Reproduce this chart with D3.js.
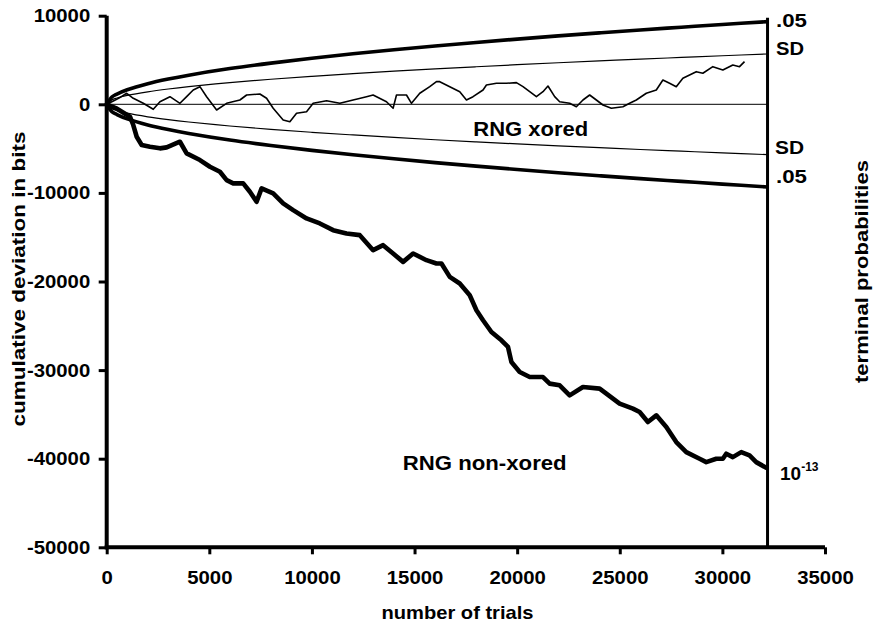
<!DOCTYPE html>
<html>
<head>
<meta charset="utf-8">
<script src="https://cdn.jsdelivr.net/npm/d3@7"></script>
<style>
  html, body { margin: 0; padding: 0; background: #fff; }
  svg { display: block; }
  text { font-family: "Liberation Sans", Arial, Helvetica, sans-serif; font-weight: bold; fill: #000; }
</style>
</head>
<body>
<svg id="chart" width="874" height="625"></svg>
<script>
// ---------- data ----------
const xTicks = [0, 5000, 10000, 15000, 20000, 25000, 30000, 35000];
const yTicks = [10000, 0, -10000, -20000, -30000, -40000, -50000];
const endTrial = 32200;

// envelope
const envX   = [0, 250, 500, 1000, 2000, 3000, 4000, 6000, 8000, 10000, 12000, 14000, 16000, 18000, 20000, 22000, 24000, 26000, 28000, 30000, 32200];
const envSD  = [0, 500, 710, 1000, 1410, 1730, 2000, 2450, 2830, 3160, 3460, 3740, 4000, 4240, 4470, 4690, 4900, 5100, 5290, 5480, 5680];
const env05  = [0, 820, 1160, 1650, 2330, 2850, 3290, 4030, 4650, 5200, 5700, 6150, 6580, 6980, 7360, 7720, 8060, 8390, 8700, 9010, 9330];

// RNG xored cumulative deviation
const xoredX = [0, 300, 600, 974, 1295, 1782, 2269, 2595, 3082, 3569, 3895, 4216, 4543, 4869, 5356, 5843, 6490, 6817, 7464, 7790, 8112, 8599, 8925, 9251, 9738, 10060, 10712, 11359, 12007, 12659, 12981, 13633, 13955, 14120, 14607, 14851, 15255, 15742, 16068, 16229, 16716, 17203, 17529, 17850, 18337, 18503, 18990, 19476, 19963, 20285, 20611, 20937, 21258, 21502, 21828, 22071, 22558, 22885, 23206, 23532, 23858, 24180, 24589, 25154, 25480, 25806, 26293, 26780, 27101, 27427, 27753, 28075, 28727, 29048, 29535, 30022, 30509, 30836, 31079];
const xoredY = [0, 350, 700, 1243, 678, 113, -565, 294, 859, 113, 859, 1616, 1989, 859, -644, 113, 486, 1051, 1164, 678, -452, -1774, -1966, -1017, -836, 113, 407, 113, 486, 859, 1051, 294, -452, 1051, 1051, 113, 1243, 1989, 2554, 2554, 1989, 1424, 486, 859, 1616, 2181, 2373, 2373, 2441, 1989, 1424, 859, 1424, 2068, 859, 294, 113, -271, 486, 1051, 486, -79, -452, -271, 113, 486, 1243, 1616, 2746, 2373, 1989, 2938, 3684, 3503, 4249, 3876, 4441, 4249, 4814];

// RNG non-xored cumulative deviation
const nonX = [0, 500, 1134, 1295, 1461, 1704, 2108, 2595, 2921, 3569, 3895, 4543, 5030, 5517, 5843, 6164, 6651, 6977, 7304, 7547, 8112, 8599, 9086, 9738, 10386, 11033, 11686, 12333, 12981, 13468, 13955, 14442, 14929, 15581, 16068, 16311, 16716, 17203, 17690, 18016, 18337, 18746, 19233, 19554, 19720, 20124, 20611, 21258, 21584, 22071, 22558, 23206, 24019, 24345, 24993, 25640, 25967, 26371, 26780, 27267, 27753, 28240, 28888, 29214, 29701, 30022, 30188, 30509, 30918, 31322, 31648, 32135];
const nonY = [0, -500, -1401, -2339, -3661, -4599, -4791, -4972, -4859, -4226, -5537, -6294, -7051, -7616, -8554, -8927, -8927, -9876, -11006, -9492, -10057, -11187, -11944, -12882, -13447, -14204, -14577, -14769, -16464, -15899, -16837, -17786, -16837, -17594, -17967, -17967, -19481, -20227, -21549, -23244, -24374, -25696, -26634, -27391, -29086, -30216, -30781, -30781, -31527, -31719, -32849, -31911, -32092, -32657, -33787, -34352, -34736, -35866, -35109, -36431, -38126, -39256, -40002, -40386, -40002, -40002, -39437, -39821, -39256, -39629, -40386, -41019];

// ---------- drawing ----------
const svg = d3.select("#chart");
const x = d3.scaleLinear().domain([0, 35000]).range([106.7, 825]);
const y = d3.scaleLinear().domain([-50000, 10000]).range([547.3, 15.7]);

const stretch = 1.07;
function widen(sel, f) {
  sel.each(function () {
    const w = this.getComputedTextLength();
    d3.select(this).attr("textLength", w * (f || stretch)).attr("lengthAdjust", "spacingAndGlyphs");
  });
}

// zero line
svg.append("line")
  .attr("x1", x(0)).attr("x2", x(endTrial))
  .attr("y1", y(0)).attr("y2", y(0))
  .attr("stroke", "#000").attr("stroke-width", 1);

// envelopes
const envLine = (arr, sign) => d3.line()
  .x((d, i) => x(envX[i]))
  .y((d, i) => y(sign * arr[i]))
  .curve(d3.curveCatmullRom)(arr);

[[envSD, 1, 1.2], [envSD, -1, 1.2], [env05, 1, 3.6], [env05, -1, 3.6]].forEach(([arr, s, w]) => {
  svg.append("path").attr("d", envLine(arr, s))
    .attr("fill", "none").attr("stroke", "#000").attr("stroke-width", w);
});

// walks
const walk = (xs, ys) => d3.line().x((d, i) => x(xs[i])).y((d, i) => y(ys[i]))(xs);
svg.append("path").attr("d", walk(xoredX, xoredY))
  .attr("fill", "none").attr("stroke", "#000").attr("stroke-width", 1.6)
  .attr("stroke-linejoin", "round");
svg.append("path").attr("d", walk(nonX, nonY))
  .attr("fill", "none").attr("stroke", "#000").attr("stroke-width", 4.6)
  .attr("stroke-linejoin", "round").attr("stroke-linecap", "round");

// right boundary line
svg.append("line")
  .attr("x1", x(endTrial)).attr("x2", x(endTrial))
  .attr("y1", y(10000) + 2).attr("y2", y(-50000))
  .attr("stroke", "#000").attr("stroke-width", 3);

// axes
const fmt = d => String(d);
const yAxis = svg.append("g").attr("transform", `translate(${x(0)},0)`)
  .call(d3.axisLeft(y).tickValues(yTicks).tickFormat(fmt).tickSize(8).tickPadding(8.5).tickSizeOuter(0));
const xAxis = svg.append("g").attr("transform", `translate(0,${y(-50000)})`)
  .call(d3.axisBottom(x).tickValues(xTicks).tickFormat(fmt).tickSize(7).tickPadding(16).tickSizeOuter(0));

[yAxis, xAxis].forEach(g => {
  g.select(".domain").attr("stroke", "#000").attr("stroke-width", 4);
  g.selectAll(".tick line").attr("stroke", "#000").attr("stroke-width", 3);
  g.selectAll(".tick text").style("font-size", "19px").style("font-family", "'Liberation Sans', Arial, sans-serif").style("font-weight", "bold").attr("fill", "#000");
});
xAxis.selectAll(".tick text").attr("dy", "0.71em").call(widen);
yAxis.selectAll(".tick text").call(widen);
yAxis.select(".domain").attr("d", `M0,${y(10000)}V${y(-50000) + 2}`);
xAxis.select(".domain").attr("d", `M${x(0) - 2},0H${x(35000)}`);

// labels
function label(txt, px, py, anchor, size, len, rot) {
  const t = svg.append("text")
    .attr("text-anchor", anchor || "start")
    .style("font-size", (size || 19) + "px")
    .text(txt);
  if (rot) t.attr("transform", `translate(${px},${py}) rotate(${rot})`);
  else t.attr("x", px).attr("y", py);
  if (len) t.attr("textLength", len).attr("lengthAdjust", "spacingAndGlyphs");
  return t;
}

label("cumulative deviation in bits", 25, 279, "middle", 19, 295, -90);
label("terminal probabilities", 867.5, 271.5, "middle", 19, 223, -90);
label("number of trials", 457.5, 619, "middle", 19, 152);
label("RNG xored", 473.3, 136, "start", 19.5, 115);
label("RNG non-xored", 402.7, 470, "start", 19.5, 164);

label(".05", 776, 26.7, "start", 19, 31);
label("SD", 776, 55, "start", 19, 28);
label("SD", 775, 154, "start", 19, 29);
label(".05", 776, 182.7, "start", 19, 31);

const p = svg.append("text").attr("x", 780).attr("y", 480).style("font-size", "19px");
p.append("tspan").text("10");
p.append("tspan").attr("dy", -9.5).style("font-size", "12px").text("-13");
</script>
</body>
</html>
